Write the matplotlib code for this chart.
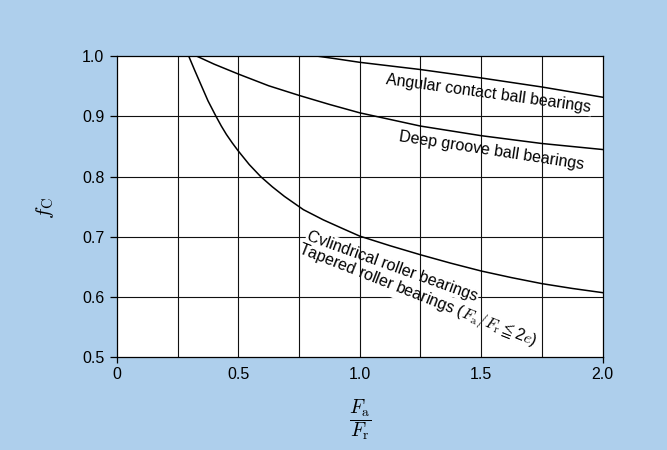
import matplotlib
matplotlib.use("Agg")
import matplotlib.pyplot as plt

plt.rcParams['font.family'] = ['Liberation Sans', 'DejaVu Sans']
plt.rcParams['mathtext.fontset'] = 'cm'

# ---- data ----
angular_x = [0.83, 0.90, 1.00, 1.25, 1.50, 1.75, 2.00]
angular_y = [1.000, 0.996, 0.990, 0.978, 0.964, 0.949, 0.932]

deep_x = [0.330, 0.40, 0.50, 0.625, 0.75, 0.875, 1.00, 1.25, 1.50, 1.75, 2.00]
deep_y = [1.000, 0.987, 0.9705, 0.951, 0.935, 0.920, 0.906, 0.884, 0.868, 0.855, 0.845]

roller_x = [0.296, 0.320, 0.348, 0.375, 0.407, 0.430, 0.451, 0.475, 0.499, 0.545,
            0.592, 0.640, 0.690, 0.768, 0.850, 0.930, 1.000, 1.125, 1.250, 1.375,
            1.500, 1.625, 1.750, 1.875, 2.000]
roller_y = [1.000, 0.977, 0.951, 0.926, 0.901, 0.884, 0.870, 0.856, 0.843, 0.820,
            0.800, 0.783, 0.767, 0.745, 0.728, 0.7135, 0.701, 0.685, 0.670, 0.656,
            0.643, 0.632, 0.622, 0.614, 0.607]

x_ticks = [0, 0.5, 1.0, 1.5, 2.0]
x_tick_labels = ["0", "0.5", "1.0", "1.5", "2.0"]
y_ticks = [0.5, 0.6, 0.7, 0.8, 0.9, 1.0]
y_tick_labels = ["0.5", "0.6", "0.7", "0.8", "0.9", "1.0"]
x_grid = [0.25, 0.5, 0.75, 1.0, 1.25, 1.5, 1.75]
y_grid = [0.6, 0.7, 0.8, 0.9]

labels = ["Angular contact ball bearings",
          "Deep groove ball bearings",
          "Cylindrical roller bearings",
          "Tapered roller bearings ($F_\\mathrm{a}/F_\\mathrm{r}\\leqq$2$e$)"]

BG = '#aecfec'

fig = plt.figure(figsize=(6.67, 4.5), dpi=100, facecolor=BG)
ax = fig.add_axes([0.1753, 0.2067, 0.7280, 0.6682])
ax.set_facecolor('white')
ax.set_xlim(0, 2.0)
ax.set_ylim(0.5, 1.0)

for yv in y_grid:
    ax.axhline(yv, color='#111111', lw=0.8, zorder=1)
for xv in x_grid:
    ax.axvline(xv, color='#111111', lw=0.8, zorder=2.5)

lw = 1.1
ax.plot(angular_x, angular_y, color='black', lw=lw, zorder=3)
ax.plot(deep_x, deep_y, color='black', lw=lw, zorder=3)
ax.plot(roller_x, roller_y, color='black', lw=lw, zorder=3)

bb = dict(boxstyle='square,pad=0.08', fc='white', ec='none')
tk = dict(ha='center', va='center', rotation_mode='anchor', fontsize=11.5, zorder=2, bbox=bb)
ax.text(1.530, 0.938, labels[0], rotation=-7.8, **tk)
ax.text(1.544, 0.843, labels[1], rotation=-8.7, **tk)
ax.text(1.135, 0.651, labels[2], rotation=-19.8, **tk)
ax.text(1.238, 0.602, labels[3], rotation=-21.5, **tk)

for s in ax.spines.values():
    s.set_linewidth(0.9)
    s.set_color('black')
    s.set_zorder(4)

ax.set_xticks(x_ticks)
ax.set_xticklabels(x_tick_labels, fontsize=11.5)
ax.set_yticks(y_ticks)
ax.set_yticklabels(y_tick_labels, fontsize=11.5)
ax.xaxis.remove_overlapping_locs = False
ax.set_xticks([0, 2.0], minor=True)
ax.tick_params(axis='x', which='major', length=0, pad=7.5)
ax.tick_params(axis='x', which='minor', length=4, width=0.9, direction='out')
ax.tick_params(axis='y', which='major', length=5, width=0.9, direction='out', pad=4)

fig.text(0.0675, 0.538, "$f_\\mathrm{C}$", rotation=90, ha='center', va='center', fontsize=15)
fig.text(0.5397, 0.0667, "$\\dfrac{F_\\mathrm{a}}{F_\\mathrm{r}}$", ha='center', va='center', fontsize=14)

fig.savefig("out.png", dpi=100, facecolor=BG)
